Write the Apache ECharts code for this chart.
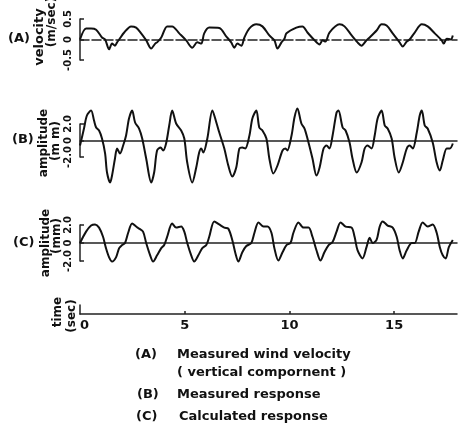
<!DOCTYPE html>
<html>
<head>
<meta charset="utf-8">
<script src="https://cdn.jsdelivr.net/npm/echarts@6/dist/echarts.min.js"></script>
<style>
html,body{margin:0;padding:0;background:#fff;}
#chart{width:461px;height:424px;}
</style>
</head>
<body>
<div id="chart"></div>
<script>
// (A) measured wind velocity (m/sec)
const tA = [0,0.29,0.53,0.77,1.05,1.20,1.39,1.53,1.67,1.77,1.87,2.11,2.44,2.68,2.92,3.16,3.40,3.59,3.68,3.88,4.16,4.40,4.74,5.07,5.36,5.60,5.79,5.93,6.17,6.65,6.99,7.22,7.37,7.51,7.70,7.85,8.09,8.42,8.71,9.04,9.28,9.43,9.62,9.76,9.86,10.33,10.62,10.86,11.20,11.44,11.58,11.72,11.91,12.39,12.63,12.97,13.25,13.44,13.68,13.83,14.16,14.40,14.64,14.93,15.26,15.41,15.60,15.74,15.98,16.32,16.60,16.94,17.27,17.37,17.51,17.70,17.80];
const vA = [0,0.27,0.27,0.24,0.05,0,-0.24,-0.10,-0.15,-0.07,0,0.17,0.32,0.29,0.15,-0.02,-0.22,-0.10,-0.07,0.05,0.32,0.32,0.15,-0.02,-0.20,-0.07,-0.10,0.15,0.29,0.28,0.07,-0.07,-0.20,-0.10,-0.15,0.05,0.27,0.37,0.32,0.10,-0.02,-0.22,-0.07,0.02,0.15,0.29,0.32,0.17,-0.02,-0.12,-0.02,-0.05,0.17,0.37,0.32,0.10,-0.07,-0.15,-0.02,0.05,0.22,0.37,0.34,0.15,-0.07,-0.17,-0.05,0,0.17,0.37,0.32,0.15,-0.02,-0.10,0.02,0,0.10];

// (B) measured response (mm)
const tB = [0,0.19,0.33,0.53,0.67,0.77,0.91,1.05,1.20,1.29,1.44,1.53,1.67,1.77,1.91,2.06,2.20,2.34,2.49,2.63,2.82,2.97,3.16,3.40,3.54,3.68,3.85,3.97,4.11,4.26,4.40,4.59,4.83,4.98,5.12,5.36,5.55,5.69,5.79,5.89,6.08,6.32,6.51,6.65,6.89,7.08,7.27,7.46,7.61,7.75,7.89,8.09,8.23,8.42,8.56,8.71,8.90,9.04,9.23,9.43,9.67,9.81,9.90,10.10,10.24,10.38,10.57,10.72,10.86,11.10,11.29,11.44,11.63,11.77,11.91,12.06,12.25,12.34,12.54,12.68,12.87,13.01,13.21,13.44,13.59,13.73,13.92,14.07,14.21,14.40,14.55,14.69,14.88,15.02,15.22,15.41,15.60,15.74,15.89,16.08,16.22,16.32,16.46,16.60,16.84,17.03,17.18,17.32,17.51,17.66,17.80];
const vB = [-0.61,1.45,3.03,3.64,2.42,1.58,1.21,0.24,-1.58,-3.88,-5.09,-4.24,-2.18,-0.97,-1.58,-0.61,0.61,2.67,3.64,2.18,1.45,0.24,-2.18,-5.09,-3.88,-1.21,-0.85,-1.21,-0.36,1.82,3.64,2.06,1.21,0.24,-2.67,-5.09,-3.27,-1.45,-0.97,-1.45,0.24,3.64,2.18,0.97,-0.97,-3.03,-4.36,-3.27,-0.97,-0.85,-0.97,0.61,2.67,3.64,1.58,1.21,0.24,-2.18,-4.00,-3.03,-1.21,-0.97,-1.21,0.61,2.79,3.88,2.06,1.45,0.24,-2.18,-4.24,-3.27,-0.97,-0.61,-0.97,0.61,3.39,3.64,1.58,1.21,-0.24,-2.18,-3.88,-2.67,-0.97,-0.61,-0.97,0.61,2.67,3.64,1.82,1.45,0.24,-2.06,-3.88,-2.67,-0.97,-0.61,-0.97,0.97,3.03,3.64,1.82,1.45,-0.24,-2.67,-3.64,-2.42,-0.97,-0.97,-0.36];

// (C) calculated response (mm)
const tC = [0,0.29,0.53,0.72,0.91,1.10,1.24,1.39,1.53,1.72,1.87,2.01,2.15,2.30,2.49,2.68,2.82,3.01,3.16,3.35,3.49,3.68,3.88,4.02,4.16,4.40,4.59,4.83,4.98,5.12,5.31,5.45,5.65,5.84,6.03,6.17,6.41,6.65,6.89,7.08,7.27,7.42,7.56,7.75,7.94,8.18,8.33,8.52,8.76,8.95,9.14,9.28,9.47,9.67,9.86,10.05,10.19,10.43,10.67,10.91,11.10,11.29,11.48,11.67,11.87,12.06,12.25,12.44,12.68,12.97,13.11,13.25,13.49,13.68,13.83,13.97,14.16,14.31,14.45,14.69,14.93,15.12,15.26,15.41,15.60,15.84,15.98,16.17,16.36,16.60,16.84,17.03,17.18,17.32,17.46,17.61,17.80];
const vC = [0,1.26,1.94,2.06,1.71,0.69,-0.57,-1.60,-2.06,-1.60,-0.57,-0.23,0,1.14,2.17,1.83,1.60,1.26,0,-1.37,-2.06,-1.37,-0.57,-0.23,0.69,2.17,1.71,1.83,1.26,0,-1.37,-2.06,-1.37,-0.57,-0.23,0.69,2.40,2.06,1.71,1.60,0.34,-1.14,-2.06,-1.03,-0.34,0,1.14,2.29,1.83,1.83,1.14,-0.57,-1.94,-1.03,-0.23,0,1.14,2.29,1.71,1.71,0.69,-0.80,-1.94,-1.03,-0.23,0.11,1.26,2.29,1.83,1.71,0.69,-0.80,-1.71,-0.46,0.57,0,0.34,1.83,2.40,1.94,1.71,0.69,-0.80,-1.71,-0.80,0,0,1.26,2.29,1.83,2.06,1.14,-0.46,-1.37,-1.71,-0.46,0.34];

// axis ticks
const timeTicks = [0,5,10,15];
const ticksA = [-0.5,0,0.5];
const ticksB = [-2,0,2];
const ticksC = [-2,0,2];

const pairs = (t,v) => t.map((x,i)=>[x,v[i]]);
const FONT = 'DejaVu Sans';

const grids = [
  {left:80, right:4, top:19, height:41},
  {left:80, right:4, top:124, height:33},
  {left:80, right:4, top:225, height:36},
  {left:80, right:4, top:305, height:9}
];

function panelX(idx, dashed){
  return {
    gridIndex: idx, type:'value', min:0, max:18, interval:5,
    axisLine:{show:true, onZero:true, lineStyle:{color:'#222', width:1.5, type: dashed ? [9,3] : 'solid'}},
    axisTick:{show:false}, axisLabel:{show:false}, splitLine:{show:false}
  };
}
function panelY(idx, min, max, interval, ticks){
  return {
    gridIndex: idx, type:'value', min:min, max:max, interval:interval,
    axisLine:{show:true, lineStyle:{color:'#222', width:1.5}},
    axisTick:{show:true, inside:true, length:4, lineStyle:{color:'#222', width:1.5}},
    axisLabel:{show:true, rotate:90, margin:7, color:'#111', fontFamily:FONT, fontWeight:'bold', fontSize:10,
      customValues: ticks,
      formatter:(v)=> ticks.indexOf(v)>=0 ? (v===0?'0':v.toFixed(1)) : ''},
    splitLine:{show:false}
  };
}

const lineStyle = {color:'#111', width:2};
function lineSeries(idx, data){
  return {type:'line', xAxisIndex:idx, yAxisIndex:idx, data:data, showSymbol:false, symbol:'none',
    smooth:0.3, clip:false, lineStyle:lineStyle, silent:true, animation:false};
}

function vtext(x,y,text,size){
  return {type:'text', x:x, y:y, rotation:Math.PI/2,
    style:{text:text, fill:'#111', font:'bold '+(size||12)+'px "DejaVu Sans"', textAlign:'center', textVerticalAlign:'middle'}};
}
function htext(x,y,text){
  return {type:'text', x:x, y:y,
    style:{text:text, fill:'#111', font:'bold 13px "DejaVu Sans"', textAlign:'left', textVerticalAlign:'middle'}};
}

const option = {
  backgroundColor:'#fff',
  animation:false,
  grid: grids,
  xAxis:[
    panelX(0,true), panelX(1,false), panelX(2,false),
    {gridIndex:3, type:'value', min:0, max:18, interval:5,
     axisLine:{show:true, onZero:false, lineStyle:{color:'#222', width:1.5}},
     axisTick:{show:true, inside:true, length:3, customValues:[5,10,15], lineStyle:{color:'#222', width:1.5}},
     axisLabel:{show:true, margin:5, color:'#111', fontFamily:FONT, fontWeight:'bold', fontSize:13,
       customValues: timeTicks, alignMinLabel:'left',
       formatter:(v)=> timeTicks.indexOf(v)>=0 ? String(v) : ''},
     splitLine:{show:false}}
  ],
  yAxis:[
    panelY(0,-0.5,0.5,0.5,ticksA),
    panelY(1,-2,2,2,ticksB),
    panelY(2,-2,2,2,ticksC),
    {gridIndex:3, type:'value', min:0, max:1,
     axisLine:{show:true, lineStyle:{color:'#222', width:1.5}},
     axisTick:{show:false}, axisLabel:{show:false}, splitLine:{show:false}}
  ],
  series:[
    lineSeries(0, pairs(tA,vA)),
    lineSeries(1, pairs(tB,vB)),
    lineSeries(2, pairs(tC,vC))
  ],
  graphic:[
    htext(8,39,'(A)'), vtext(40,37,'velocity',13), vtext(52,22,'(m/sec)',12),
    htext(12,140,'(B)'), vtext(44,143,'amplitude',12), vtext(56,141,'(m m)',12),
    htext(13,243,'(C)'), vtext(46,243,'amplitude',12), vtext(57,236,'(mm)',12),
    vtext(58,312,'time',12), vtext(72,316,'(sec)',12),
    htext(135,355,'(A)'), htext(177,355,'Measured wind velocity'),
    htext(177,373,'( vertical compornent )'),
    htext(137,395,'(B)'), htext(177,395,'Measured response'),
    htext(136,417,'(C)'), htext(179,417,'Calculated response')
  ]
};

const chart = echarts.init(document.getElementById('chart'), null, {renderer:'canvas'});
chart.setOption(option);
</script>
</body>
</html>
